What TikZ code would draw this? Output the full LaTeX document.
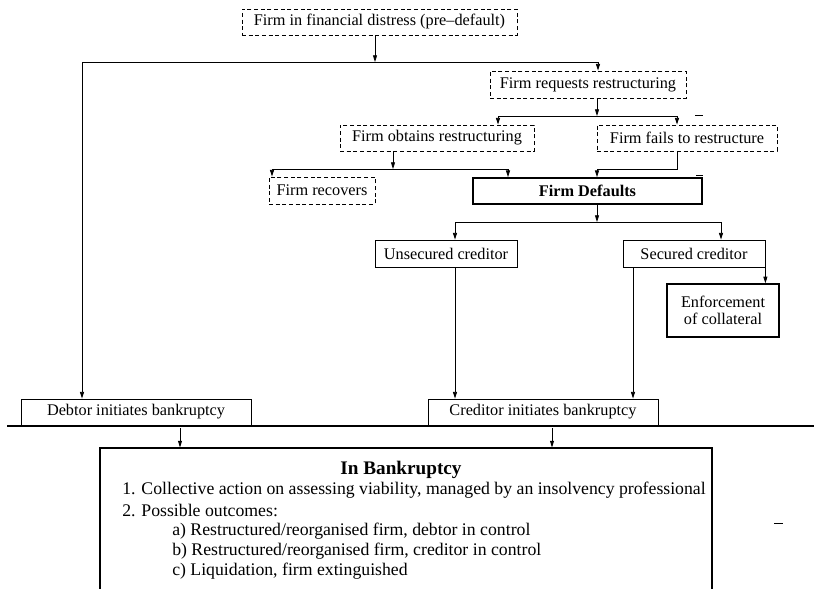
\documentclass[tikz,border=0pt]{standalone}
\usepackage{fontspec}
\setmainfont{Liberation Serif}
\usetikzlibrary{arrows.meta}
\begin{document}
\begin{tikzpicture}[x=0.75pt,y=-0.75pt,
  box/.style={draw, line width=0.6pt, inner sep=0pt, font=\fontsize{12.2}{14}\selectfont},
  dbox/.style={box, dash pattern=on 3pt off 2pt},
  bbox/.style={box, line width=1.3pt},
  arr/.style={-{Triangle[length=5pt,width=3pt]}, line width=0.6pt},
  ln/.style={line width=0.6pt},
  txt/.style={inner sep=0pt, font=\fontsize{13.3}{15}\selectfont}]
\clip (0,0) rectangle (814,589);
% nodes
\node[dbox, minimum width=206.25pt, minimum height=19.5pt] (top) at (379.5,22) {Firm in financial distress (pre--default)};
\node[dbox, minimum width=147pt, minimum height=20.25pt] (req) at (588,84.5) {Firm requests restructuring};
\node[dbox, minimum width=145.5pt, minimum height=19.5pt] (obt) at (437,138) {Firm obtains restructuring};
\node[dbox, minimum width=135pt, minimum height=19.5pt] (fail) at (687,138) {Firm fails to restructure};
\node[dbox, minimum width=79.5pt, minimum height=20.25pt] (recov) at (322,190.5) {Firm recovers};
\node[bbox, minimum width=171.75pt, minimum height=19.5pt, font=\fontsize{12.2}{14}\selectfont\bfseries] (def) at (587.5,191) {Firm Defaults};
\node[box, minimum width=106.5pt, minimum height=20.25pt] (unsec) at (446,253.5) {Unsecured creditor};
\node[box, minimum width=106.5pt, minimum height=20.25pt] (sec) at (694,253.5) {Secured creditor};
\node[bbox, line width=1.1pt, minimum width=84pt, minimum height=39.75pt, align=center, font=\fontsize{12.2}{12.5}\selectfont] (enf) at (723,310.5) {Enforcement\\of collateral};
\node[box, minimum width=172.5pt, minimum height=19.5pt] (debtor) at (136,412) {Debtor initiates bankruptcy};
\node[box, minimum width=172.5pt, minimum height=19.5pt] (cred) at (543,412) {Creditor initiates bankruptcy};
\node[box, line width=0.8pt, minimum width=459pt, minimum height=114pt] (bk) at (406,524) {};
\node[txt, font=\fontsize{14.4}{16}\selectfont\bfseries] (title) at (401,470) {In Bankruptcy};
\node[txt, anchor=west] (l1) at (122,490) {1. Collective action on assessing viability, managed by an insolvency professional};
\node[txt, anchor=west] (l2) at (122,510) {2. Possible outcomes:};
\node[txt, anchor=west] (la) at (172,531) {a) Restructured/reorganised firm, debtor in control};
\node[txt, anchor=west] (lb) at (172,551) {b) Restructured/reorganised firm, creditor in control};
\node[txt, anchor=west] (lc) at (172,571) {c) Liquidation, firm extinguished};
% junctions
\coordinate (j1) at (375,62);
\coordinate (jL) at (82,62);
\coordinate (jR) at (598,62);
\draw[arr] (top.south -| j1) -- (j1);
\draw[ln] (jL) -- (jR);
\draw[arr] (jL) -- (debtor.north -| jL);
\draw[arr] (jR) -- (req.north -| jR);
\coordinate (j2) at (597,116);
\coordinate (j2L) at (498,116);
\coordinate (j2R) at (677,116);
\draw[arr] (req.south -| j2) -- (j2);
\draw[ln] (j2L) -- (j2R);
\draw[arr] (j2L) -- (obt.north -| j2L);
\draw[arr] (j2R) -- (fail.north -| j2R);
\coordinate (j3) at (393,169);
\coordinate (j3L) at (272,169);
\coordinate (j3R) at (508,169);
\draw[arr] (obt.south -| j3) -- (j3);
\draw[ln] (j3L) -- (j3R);
\draw[arr] (j3L) -- (recov.north -| j3L);
\draw[arr] (j3R) -- (def.north -| j3R);
\coordinate (j4) at (677,169);
\coordinate (j4L) at (597,169);
\draw[arr] (fail.south -| j4) -- (j4) -- (j4L) -- (def.north -| j4L);
\coordinate (j5) at (597,222);
\coordinate (j5L) at (455,222);
\coordinate (j5R) at (721,222);
\draw[arr] (def.south -| j5) -- (j5);
\draw[ln] (j5L) -- (j5R);
\draw[arr] (j5L) -- (unsec.north -| j5L);
\draw[arr] (j5R) -- (sec.north -| j5R);
\draw[arr] (unsec.south -| j5L) -- (cred.north -| j5L);
\coordinate (k2) at (633,267);
\draw[arr] (sec.south -| k2) -- (cred.north -| k2);
\draw[arr] (sec.south east) -- (enf.north -| sec.south east);
% thick line
\coordinate (b1) at (7,426);
\coordinate (b2) at (814,426);
\draw[line width=2.2pt] (b1) -- (b2);
\coordinate (a1) at (180,428);
\coordinate (a2) at (552,428);
\draw[arr] (a1) -- (bk.north -| a1);
\draw[arr] (a2) -- (bk.north -| a2);
% stray marks
\draw[ln] (695,115) -- (703,115);
\draw[ln] (696,175) -- (703,175);
\draw[ln] (774,523) -- (783,523);
\end{tikzpicture}
\end{document}
